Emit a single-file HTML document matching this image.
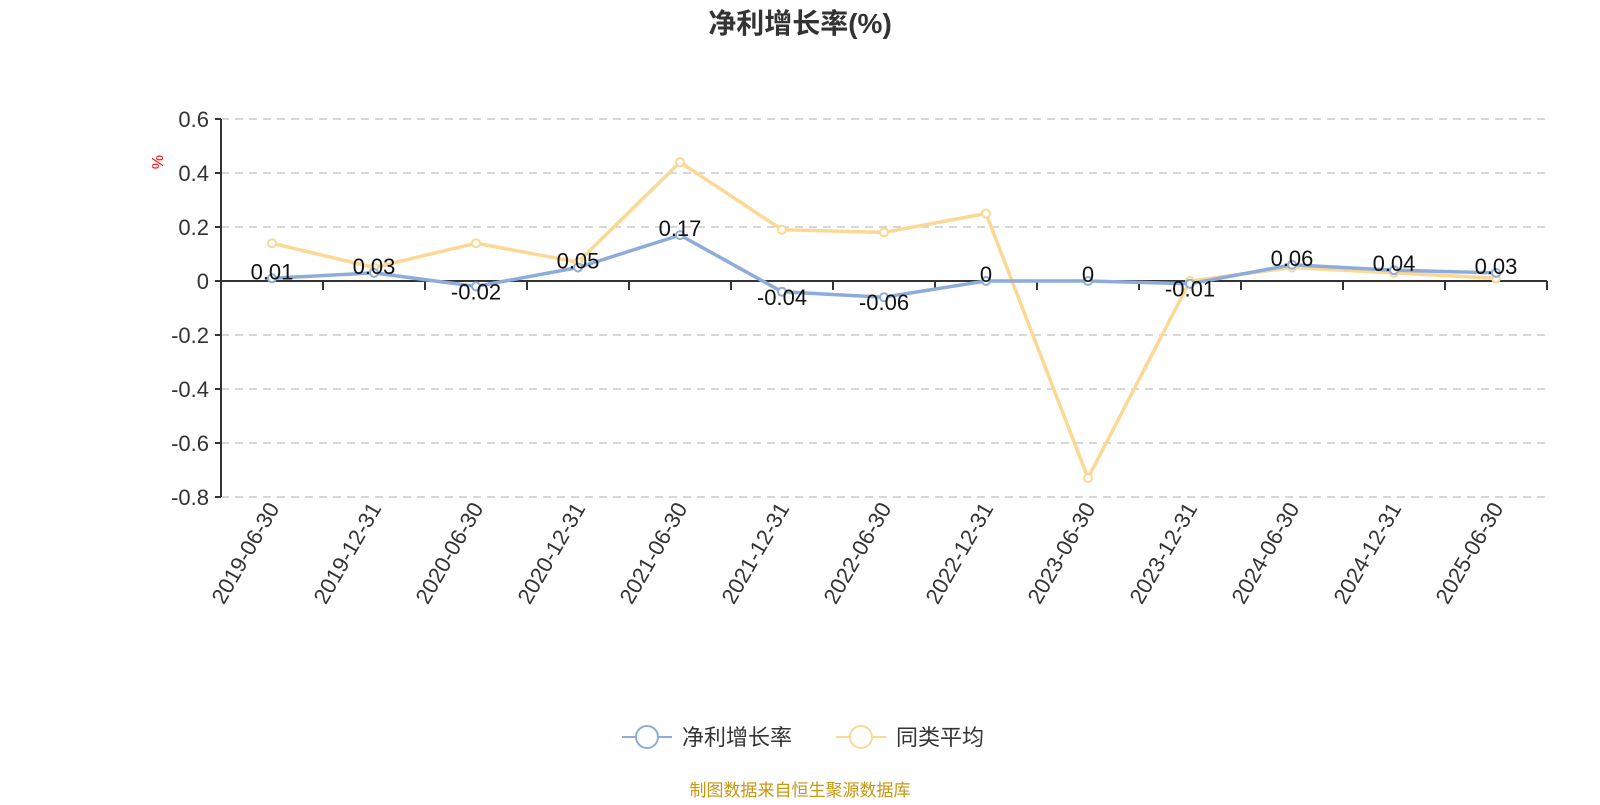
<!DOCTYPE html>
<html><head><meta charset="utf-8"><style>
body{margin:0;background:#fff;width:1600px;height:800px;overflow:hidden;font-family:"Liberation Sans","Noto Sans CJK SC",sans-serif}
</style></head><body>
<svg width="1600" height="800" id="c" font-family="Liberation Sans, Noto Sans CJK SC, sans-serif">
<text x="800" y="33" text-anchor="middle" font-size="28" font-weight="bold" fill="#333">净利增长率(%)</text>
<text x="0" y="0" transform="translate(163,162) rotate(-90)" text-anchor="middle" font-size="16" fill="red">%</text>
<g id="grid"></g><g id="axes"></g><g id="series"></g>
<g>
<g><line x1="622" y1="737" x2="672" y2="737" stroke="#8eacd9" stroke-width="2"/><circle cx="647" cy="737" r="11" fill="#fff" stroke="#8eacd9" stroke-width="2"/><text x="682" y="745" font-size="22" fill="#333">净利增长率</text></g>
<g><line x1="836" y1="737" x2="886" y2="737" stroke="#fcd895" stroke-width="2"/><circle cx="861" cy="737" r="11" fill="#fff" stroke="#fcd895" stroke-width="2"/><text x="896" y="745" font-size="22" fill="#333">同类平均</text></g>
</g>
<text x="800" y="796" text-anchor="middle" font-size="17" fill="#c8960f">制图数据来自恒生聚源数据库</text>
</svg>
<script>
const categories=["2019-06-30","2019-12-31","2020-06-30","2020-12-31","2021-06-30","2021-12-31","2022-06-30","2022-12-31","2023-06-30","2023-12-31","2024-06-30","2024-12-31","2025-06-30"];
const netValues=[0.01,0.03,-0.02,0.05,0.17,-0.04,-0.06,0,0,-0.01,0.06,0.04,0.03];
const peerValues=[0.14,0.05,0.14,0.07,0.44,0.19,0.18,0.25,-0.73,0.0,0.05,0.03,0.01];
const yTicks=[0.6,0.4,0.2,0,-0.2,-0.4,-0.6,-0.8];
const NS="http://www.w3.org/2000/svg";
const X0=221,BW=102,Y0=281,PX=270;
const xs=i=>X0+BW*(i+0.5);
const ys=v=>Y0-v*PX;
function mk(t,a,p){const e=document.createElementNS(NS,t);for(const k in a)e.setAttribute(k,a[k]);p.appendChild(e);return e;}
const grid=document.getElementById('grid'),axes=document.getElementById('axes'),ser=document.getElementById('series');
const XR=X0+BW*categories.length;
yTicks.forEach(v=>{
 if(v!==0){const g=mk('line',{x1:X0,x2:XR,y1:ys(v),y2:ys(v),stroke:'#ccc','stroke-dasharray':'8,6','stroke-width':1.5},grid);
 
 }
 const t=mk('text',{x:X0-12,y:ys(v)+8,'text-anchor':'end','font-size':22,fill:'#333'},axes);t.textContent=v;
 
 
 mk('line',{x1:X0-6,x2:X0,y1:ys(v),y2:ys(v),stroke:'#333','stroke-width':2},axes);
});
const ya=mk('line',{x1:X0,x2:X0,y1:ys(0.6),y2:ys(-0.8),stroke:'#333','stroke-width':2},axes);


const xa=mk('line',{x1:X0,x2:XR,y1:Y0,y2:Y0,stroke:'#333','stroke-width':2},axes);


categories.forEach((c,i)=>{
 mk('line',{x1:X0+BW*(i+1),x2:X0+BW*(i+1),y1:Y0,y2:Y0+9,stroke:'#333','stroke-width':2},axes);
 const t=mk('text',{x:0,y:0,transform:`translate(${xs(i)+8},${Y0+227}) rotate(-60)`,'text-anchor':'end','font-size':22,fill:'#333'},axes);t.textContent=c;
 
 
});
function line(vals,color,name,labels){
 const p=mk('polyline',{points:vals.map((v,i)=>xs(i)+','+ys(v)).join(' '),fill:'none',stroke:color,'stroke-width':3.5},ser);
 
 
 vals.forEach((v,i)=>{
  const c=mk('circle',{cx:xs(i),cy:ys(v),r:4,fill:'#fff',stroke:color,'stroke-width':2},ser);
  
  
 });
}
line(peerValues,'#fcd895','peer-average');
line(netValues,'#8eacd9','net-profit');
netValues.forEach((v,i)=>{
 const t=mk('text',{x:xs(i),y:ys(v)+(v<0?13:1),'text-anchor':'middle','font-size':22,fill:'#111'},ser);t.textContent=v;
 
 
});
</script>
</body></html>
